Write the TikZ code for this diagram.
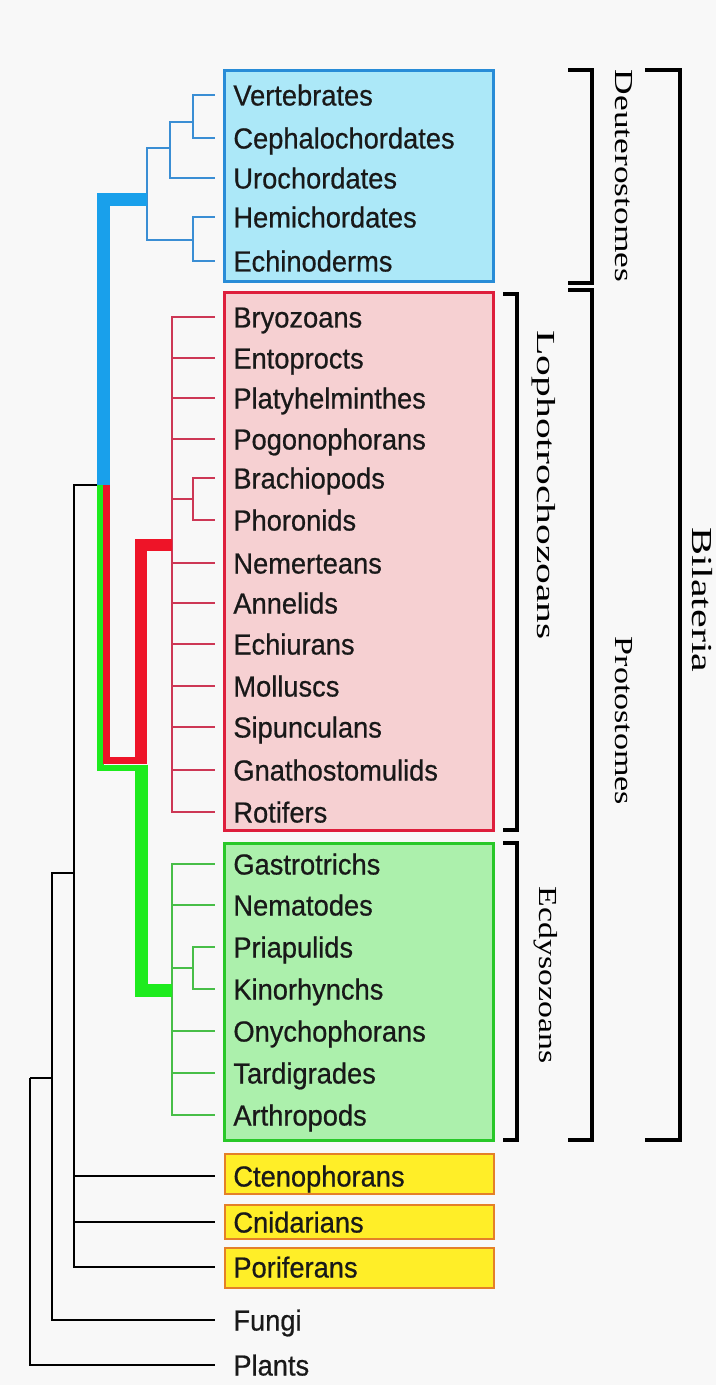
\documentclass[tikz,border=0pt]{standalone}
\usepackage{fontspec}
\setmainfont{Liberation Serif}
\newfontfamily\taxonfont[FakeStretch=0.94, FakeBold=0.6]{Liberation Sans}
\usetikzlibrary{positioning,calc}

\definecolor{bgcol}{RGB}{248,248,248}
\definecolor{deutfill}{RGB}{172,232,248}
\definecolor{deutedge}{RGB}{40,140,215}
\definecolor{deutbranch}{RGB}{58,142,212}
\definecolor{deutthick}{RGB}{25,160,235}
\definecolor{lophfill}{RGB}{246,208,210}
\definecolor{lophedge}{RGB}{222,30,60}
\definecolor{lophbranch}{RGB}{205,55,85}
\definecolor{lophthick}{RGB}{238,20,40}
\definecolor{ecdyfill}{RGB}{172,240,172}
\definecolor{ecdyedge}{RGB}{40,200,40}
\definecolor{ecdybranch}{RGB}{72,190,72}
\definecolor{ecdythick}{RGB}{30,235,30}
\definecolor{outfill}{RGB}{255,238,40}
\definecolor{outedge}{RGB}{228,128,40}

\tikzset{
  taxon/.style={anchor=west, inner sep=0pt, text height=10.5pt, text depth=0pt,
    font=\taxonfont\fontsize{14.5}{17}\selectfont, text=black!90},
  clade/.style={rotate=-90, inner sep=0pt, font=\fontsize{13}{15}\selectfont},
  groupbox/.style={line width=1.5pt},
  branch/.style={line width=1.2pt},
  stem/.style={line join=miter},
  bracket/.style={line width=1.7pt, line join=miter},
  outline/.style={line width=1.2pt}
}

\begin{document}
\begin{tikzpicture}[x=0.5pt, y=-0.5pt]
  \useasboundingbox (0,0) rectangle (716,1385);
  \fill[bgcol] (0,0) rectangle (716,1385);

  % ==== Group boxes ====
  \draw[groupbox, draw=deutedge, fill=deutfill] (224,71) rectangle (493,282);
  \draw[groupbox, draw=lophedge, fill=lophfill] (224,293) rectangle (493,830);
  \draw[groupbox, draw=ecdyedge, fill=ecdyfill] (224,843) rectangle (493,1140);
  \draw[line width=1pt, draw=outedge, fill=outfill] (225,1154) rectangle (494,1194);
  \draw[line width=1pt, draw=outedge, fill=outfill] (225,1205) rectangle (494,1239);
  \draw[line width=1pt, draw=outedge, fill=outfill] (225,1248) rectangle (494,1288);

  % ==== Taxa ====
  % deuterostomes
  \node[taxon] (vert) at (233,95) {Vertebrates};
  \node[taxon] (ceph) at (233,138) {Cephalochordates};
  \node[taxon] (uro)  at (233,178) {Urochordates};
  \node[taxon] (hemi) at (233,217) {Hemichordates};
  \node[taxon] (echi) at (233,261) {Echinoderms};
  % lophotrochozoans
  \node[taxon] (bryo)  at (233,317) {Bryozoans};
  \node[taxon] (ento)  at (233,358) {Entoprocts};
  \node[taxon] (platy) at (233,398) {Platyhelminthes};
  \node[taxon] (pogo)  at (233,439) {Pogonophorans};
  \node[taxon] (brach) at (233,478) {Brachiopods};
  \node[taxon] (phor)  at (233,520) {Phoronids};
  \node[taxon] (nem)   at (233,563) {Nemerteans};
  \node[taxon] (anne)  at (233,603) {Annelids};
  \node[taxon] (echiu) at (233,644) {Echiurans};
  \node[taxon] (moll)  at (233,686) {Molluscs};
  \node[taxon] (sipu)  at (233,727) {Sipunculans};
  \node[taxon] (gnat)  at (233,770) {Gnathostomulids};
  \node[taxon] (roti)  at (233,812) {Rotifers};
  % ecdysozoans
  \node[taxon] (gast)  at (233,864) {Gastrotrichs};
  \node[taxon] (nema)  at (233,905) {Nematodes};
  \node[taxon] (pria)  at (233,947) {Priapulids};
  \node[taxon] (kino)  at (233,989) {Kinorhynchs};
  \node[taxon] (onych) at (233,1031) {Onychophorans};
  \node[taxon] (tardi) at (233,1073) {Tardigrades};
  \node[taxon] (arth)  at (233,1115) {Arthropods};
  % outgroups
  \node[taxon] (cten) at (233,1176) {Ctenophorans};
  \node[taxon] (cnid) at (233,1222) {Cnidarians};
  \node[taxon] (pori) at (233,1267) {Poriferans};
  \node[taxon] (fung) at (233,1320) {Fungi};
  \node[taxon] (plan) at (233,1365) {Plants};

  % ==== Junctions ====
  \coordinate (vc)   at (193,122);
  \coordinate (cu)   at (170,148);
  \coordinate (he)   at (193,240);
  \coordinate (deut) at (147,200);
  \coordinate (bp)   at (193,499);
  \coordinate (loph) at (172,545);
  \coordinate (pk)   at (193,968);
  \coordinate (ecdy) at (172,990);
  \coordinate (bil)  at (97,485);
  \coordinate (lophturn) at (141,760);
  \coordinate (ecdyturn) at (141,768);
  \coordinate (meta) at (74,873);
  \coordinate (opis) at (52,1078);
  \coordinate (root) at (30,1078);

  % ==== Deuterostome branches ====
  \draw[branch, deutbranch] (vc) |- ([xshift=-9pt]vert.west);
  \draw[branch, deutbranch] (vc) |- ([xshift=-9pt]ceph.west);
  \draw[branch, deutbranch] (cu) |- (vc);
  \draw[branch, deutbranch] (cu) |- ([xshift=-9pt]uro.west);
  \draw[branch, deutbranch] (he) |- ([xshift=-9pt]hemi.west);
  \draw[branch, deutbranch] (he) |- ([xshift=-9pt]echi.west);
  \draw[branch, deutbranch] (deut) |- (cu);
  \draw[branch, deutbranch] (deut) |- (he);

  % ==== Lophotrochozoan branches ====
  \draw[branch, lophbranch] (loph) |- ([xshift=-9pt]bryo.west);
  \draw[branch, lophbranch] (loph) |- ([xshift=-9pt]ento.west);
  \draw[branch, lophbranch] (loph) |- ([xshift=-9pt]platy.west);
  \draw[branch, lophbranch] (loph) |- ([xshift=-9pt]pogo.west);
  \draw[branch, lophbranch] (bp) |- ([xshift=-9pt]brach.west);
  \draw[branch, lophbranch] (bp) |- ([xshift=-9pt]phor.west);
  \draw[branch, lophbranch] (loph) |- (bp);
  \draw[branch, lophbranch] (loph) |- ([xshift=-9pt]nem.west);
  \draw[branch, lophbranch] (loph) |- ([xshift=-9pt]anne.west);
  \draw[branch, lophbranch] (loph) |- ([xshift=-9pt]echiu.west);
  \draw[branch, lophbranch] (loph) |- ([xshift=-9pt]moll.west);
  \draw[branch, lophbranch] (loph) |- ([xshift=-9pt]sipu.west);
  \draw[branch, lophbranch] (loph) |- ([xshift=-9pt]gnat.west);
  \draw[branch, lophbranch] (loph) |- ([xshift=-9pt]roti.west);

  % ==== Ecdysozoan branches ====
  \draw[branch, ecdybranch] (ecdy) |- ([xshift=-9pt]gast.west);
  \draw[branch, ecdybranch] (ecdy) |- ([xshift=-9pt]nema.west);
  \draw[branch, ecdybranch] (pk) |- ([xshift=-9pt]pria.west);
  \draw[branch, ecdybranch] (pk) |- ([xshift=-9pt]kino.west);
  \draw[branch, ecdybranch] (ecdy) |- (pk);
  \draw[branch, ecdybranch] (ecdy) |- ([xshift=-9pt]onych.west);
  \draw[branch, ecdybranch] (ecdy) |- ([xshift=-9pt]tardi.west);
  \draw[branch, ecdybranch] (ecdy) |- ([xshift=-9pt]arth.west);

  % ==== Thick stems ====
  \draw[stem, deutthick, line width=6.5pt] ($(bil)+(6.5,0)$) |- (deut);
  \draw[stem, ecdythick, line width=3.25pt] ($(bil)+(3.25,0)$) |- (ecdyturn);
  \draw[stem, lophthick, line width=3.5pt] ($(bil)+(9.75,0)$) |- (lophturn);
  \draw[stem, lophthick, line width=6pt] ($(lophturn)+(0,3.5)$) |- (loph);
  \draw[stem, ecdythick, line width=6.5pt] ($(ecdyturn)+(0,-3.25)$) |- (ecdy);

  % ==== Basal branches ====
  \draw[outline] (meta) |- (bil);
  \draw[outline] (meta) |- ([xshift=-9pt]cten.west);
  \draw[outline] (meta) |- ([xshift=-9pt]cnid.west);
  \draw[outline] (meta) |- ([xshift=-9pt]pori.west);
  \draw[outline] (opis) |- (meta);
  \draw[outline] (opis) |- ([xshift=-9pt]fung.west);
  \draw[outline] (root) |- (opis);
  \draw[outline] (root) |- ([xshift=-9pt]plan.west);

  % ==== Brackets ====
  \draw[bracket] (568,70) -| (592,283) -- (568,283);
  \draw[bracket] (568,290) -| (592,1140) -- (568,1140);
  \draw[bracket] (503,294) -| (517,830) -- (503,830);
  \draw[bracket] (503,843) -| (517,1140) -- (503,1140);
  \draw[bracket] (645,70) -| (680,1140) -- (645,1140);

  % ==== Clade names ====
  \node[clade, xscale=1.36] (deutlab) at (624,176) {Deuterostomes};
  \node[clade, xscale=1.6] (lophlab) at (544,485) {Lophotrochozoans};
  \node[clade, xscale=1.3] (ecdylab) at (546,975) {Ecdysozoans};
  \node[clade, xscale=1.31] (protlab) at (624,721) {Protostomes};
  \node[clade, anchor=base, font=\fontsize{14.5}{17}\selectfont, xscale=1.45] (bilab) at (692,600) {Bilateria};
\end{tikzpicture}
\end{document}
